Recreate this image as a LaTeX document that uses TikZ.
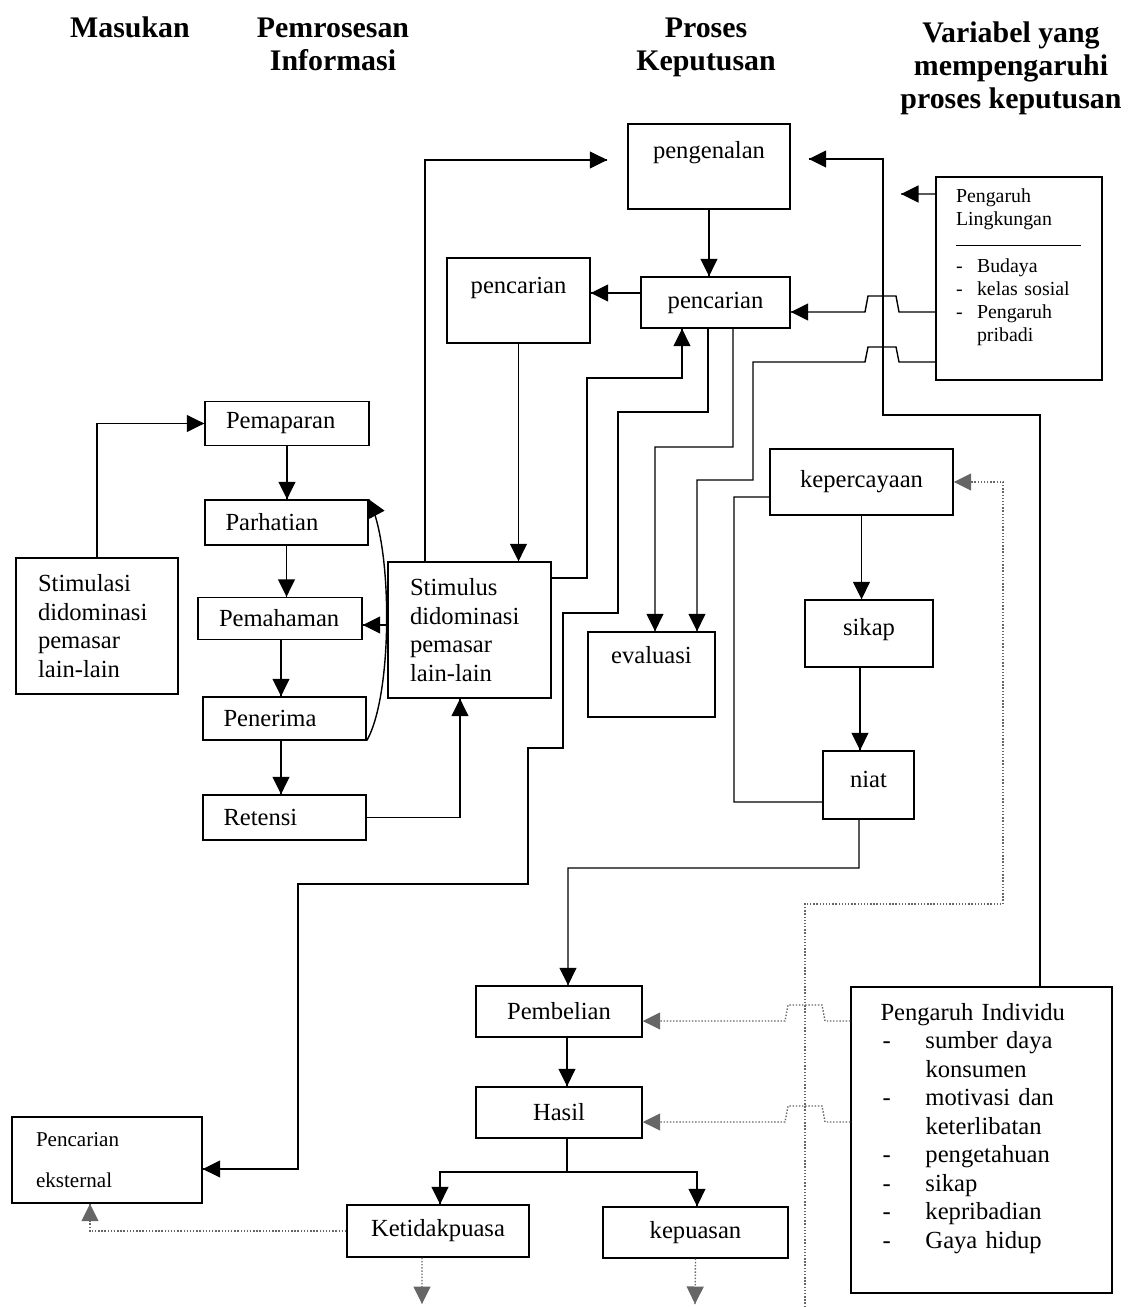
\documentclass[tikz,border=0pt]{standalone}
\usepackage{fontspec}
\setmainfont{Liberation Serif}
\usetikzlibrary{arrows.meta}
\usetikzlibrary{decorations.markings}
\tikzset{arr/.style = {decoration={markings,
                                  mark=at position 1 with {\arrow{Triangle[length=3.5mm,width=3.4mm]}}},
                      postaction={decorate}}}
\tikzset{twoarr/.style = {decoration={markings,
                                  mark=at position 0 with {\arrowreversed{Triangle[length=3.5mm,width=3.4mm]}},
                                  mark=at position 1 with {\arrow{Triangle[length=3.5mm,width=3.4mm]}}},
                      postaction={decorate}}}
\tikzset{box/.style 2 args = {draw, rectangle, inner sep=0, minimum width=#1*0.2mm, minimum height=#2*0.2mm}}
\tikzset{lbox/.style 2 args = {box={#1}{#2}, align=left, text width=24.4mm}}
\tikzset{textup/.style = {text height=3.4mm, text depth=#1}}
\tikzset{head/.style = {align=center, inner sep=0, font=\hdfont}}
\tikzset{dotline/.style = {densely dotted, draw=black!60}}
\newcommand\hdfont{\fontsize{17}{18.7}\selectfont\bfseries}
\newcommand\bxfont{\fontsize{14}{16.2}\selectfont}
\newcommand\smfont{\fontsize{11.3}{13}\selectfont}
\newcommand\dash[1]{\makebox[#1][l]{-}}

\begin{document}
\begin{tikzpicture}[x=0.2mm, y=-0.2mm, line width=0.8pt, font=\bxfont]
    \useasboundingbox (0,0) rectangle (1129,1307);

    % headings
    \node [head] (masukan) at (130,27) {Masukan};
    \node [head] (pemrosesan) at (333,44) {Pemrosesan\\Informasi};
    \node [head] (proses) at (706,47) {Proses\\Keputusan};
    \node [head] (variabel) at (1011,68) {Variabel yang\\mempengaruhi\\proses keputusan};

    % masukan dan pemrosesan informasi
    \node [box={162}{136}, align=left, text width=23.6mm] (stimulasi) at (97,626) {Stimulasi\\didominasi\\pemasar\\lain-lain};
    \node [lbox={164}{44}] (pemaparan) at (287,423.5) {Pemaparan};
    \node [lbox={163}{45}] (parhatian) at (286.5,522.5) {Parhatian};
    \node [lbox={164}{42}] (pemahaman) at (280,618.5) {Pemahaman};
    \node [lbox={163}{43}] (penerima) at (284.5,718.5) {Penerima};
    \node [lbox={163}{45}] (retensi) at (284.5,817.5) {Retensi};
    \node [box={163}{136}, align=left, text width=23.8mm] (stimulus) at (469.5,630) {Stimulus\\didominasi\\pemasar\\lain-lain};
    \node [box={190}{86}, align=left, text width=28.4mm, font=\fontsize{12}{14}\selectfont] (eksternal) at (107,1160) {Pencarian\\[9pt]eksternal};

    % proses keputusan
    \node [box={162}{85}, textup=6.5mm] (pengenalan) at (709,166.5) {pengenalan};
    \node [box={149}{51}] (pencarianB) at (715.5,302.5) {pencarian};
    \node [box={143}{85}, textup=6.3mm] (pencarianA) at (518.5,300.5) {pencarian};
    \node [box={127}{85}, textup=7.7mm] (evaluasi) at (651.5,674.5) {evaluasi};
    \node [box={183}{66}] (kepercayaan) at (861.5,482) {kepercayaan};
    \node [box={128}{67}, textup=2.6mm] (sikap) at (869,633.5) {sikap};
    \node [box={91}{68}, textup=2.6mm] (niat) at (868.5,785) {niat};
    \node [box={166}{51}] (pembelian) at (559,1011.5) {Pembelian};
    \node [box={166}{51}] (hasil) at (559,1112.5) {Hasil};
    \node [box={182}{52}] (ketidak) at (438,1231) {Ketidakpuasa};
    \node [box={185}{51}] (kepuasan) at (695.5,1232.5) {kepuasan};

    % variabel
    \node [box={166}{203}, align=left, text width=25.2mm, font=\smfont] (lingkungan) at (1019,278.5)
      {Pengaruh\\Lingkungan\\[-1.5pt]\rule{25mm}{0.6pt}\\[2.3pt]\dash{4.2mm}Budaya\\\dash{4.2mm}kelas sosial\\\dash{4.2mm}Pengaruh\\\hspace*{4.2mm}pribadi\\[2pt]\mbox{}};
    \node [box={261}{306}, align=left, text width=40.4mm] (individu) at (981.5,1140)
      {Pengaruh Individu\\\hspace*{0.4mm}\dash{8.6mm}sumber daya\\\hspace*{9mm}konsumen\\\hspace*{0.4mm}\dash{8.6mm}motivasi dan\\\hspace*{9mm}keterlibatan\\\hspace*{0.4mm}\dash{8.6mm}pengetahuan\\\hspace*{0.4mm}\dash{8.6mm}sikap\\\hspace*{0.4mm}\dash{8.6mm}kepribadian\\\hspace*{0.4mm}\dash{8.6mm}Gaya hidup\\\mbox{}};

    \coordinate (lingtip) at (901,194);
    \coordinate (outA) at (422,1304);
    \coordinate (outB) at (695,1304);
    \coordinate (dotin) at (805,1307);
    \coordinate (split) at (567,1172);

    % kiri
    \draw [arr] (stimulasi.north) |- (pemaparan.west);
    \draw [arr] (pemaparan.south) -- (pemaparan.south |- parhatian.north);
    \draw [arr] (parhatian.south) -- (parhatian.south |- pemahaman.north);
    \draw [arr] ([xshift=0.2mm]pemahaman.south) -- ([xshift=0.2mm]pemahaman.south |- penerima.north);
    \draw [arr] ([xshift=-0.7mm]penerima.south) -- ([xshift=-0.7mm]penerima.south |- retensi.north);
    \draw [arr] (retensi.east) -| ([xshift=-1.9mm]stimulus.south);
    \draw [twoarr] (parhatian.north east) .. controls (393,545) and (393,695) .. (penerima.south east);
    \draw [arr] ([yshift=-1.3mm]stimulus.west |- pemahaman.east) -- ([yshift=-1.3mm]pemahaman.east);

    % tengah
    \draw [arr] ([xshift=-8.9mm]stimulus.north) |- ([xshift=-4mm,yshift=1.3mm]pengenalan.west);
    \draw [arr] (pengenalan.south) -- (pengenalan.south |- pencarianB.north);
    \draw [arr] ([yshift=1.9mm]pencarianB.west) -- ([yshift=1.9mm]pencarianB.west -| pencarianA.east);
    \draw [arr] (pencarianA.south) -- (pencarianA.south |- stimulus.north);
    \draw [arr] ([yshift=10.4mm]stimulus.east) -| (587,378) -| ([xshift=-6.7mm]pencarianB.south);
    \draw [arr] ([xshift=-1.5mm]pencarianB.south) |- (618,412) |- (563,613) |- (528,748) |- (298,884) |- ([yshift=-1.8mm]eksternal.east);
    \draw [arr] ([xshift=3.5mm]pencarianB.south) |- (655,447) -- ([xshift=0.7mm]evaluasi.north);

    % kanan
    \draw [arr] ([yshift=-6.7mm]lingkungan.west) -- (899,312) -- (896,296) -- (868,296) -- (865,312) -- ([yshift=-1.9mm]pencarianB.east);
    \draw [arr] ([yshift=-16.7mm]lingkungan.west) -- (899,362) -- (896,347) -- (868,347) -- (865,362) -| (753,480) -| ([xshift=9.1mm]evaluasi.north);
    \draw [arr] ([yshift=16.9mm]lingkungan.west) -- (lingtip);
    \draw [arr] ([xshift=11.7mm]individu.north) |- (883,415) |- ([xshift=3.6mm,yshift=1.5mm]pengenalan.east);
    \draw ([yshift=-3mm]kepercayaan.west) -| (734,802) -- ([yshift=-3.4mm]niat.west);
    \draw [arr] (kepercayaan.south) -- (kepercayaan.south |- sikap.north);
    \draw [arr] ([xshift=-1.8mm]sikap.south) -- ([xshift=-1.8mm]sikap.south |- niat.north);
    \draw [arr, dotline] (dotin) |- (1003,904) |- (kepercayaan.east);

    % bawah
    \draw [arr] ([xshift=-1.9mm]niat.south) |- (568,868) -- ([xshift=1.8mm]pembelian.north);
    \draw [arr] ([xshift=1.6mm]pembelian.south) -- ([xshift=1.6mm]hasil.north);
    \draw [arr] ([xshift=1.6mm]hasil.south) |- (440,1172) -- ([xshift=0.4mm]ketidak.north);
    \draw [arr] (split) -| ([xshift=0.3mm]kepuasan.north);
    \draw [arr, dotline] ([yshift=-1.9mm]individu.west |- pembelian.east) -- (825,1021) -- (822,1005) -- (788,1005) -- (785,1021) -- ([yshift=-1.9mm]pembelian.east);
    \draw [arr, dotline] ([yshift=-1.9mm]individu.west |- hasil.east) -- (825,1122) -- (822,1106) -- (788,1106) -- (785,1122) -- ([yshift=-1.9mm]hasil.east);
    \draw [arr, dotline] ([xshift=-3.2mm]ketidak.south) -- (outA);
    \draw [arr, dotline] (kepuasan.south) -- (outB);
    \draw [arr, dotline] (ketidak.west) -| ([xshift=-3.4mm]eksternal.south);
\end{tikzpicture}
\end{document}
